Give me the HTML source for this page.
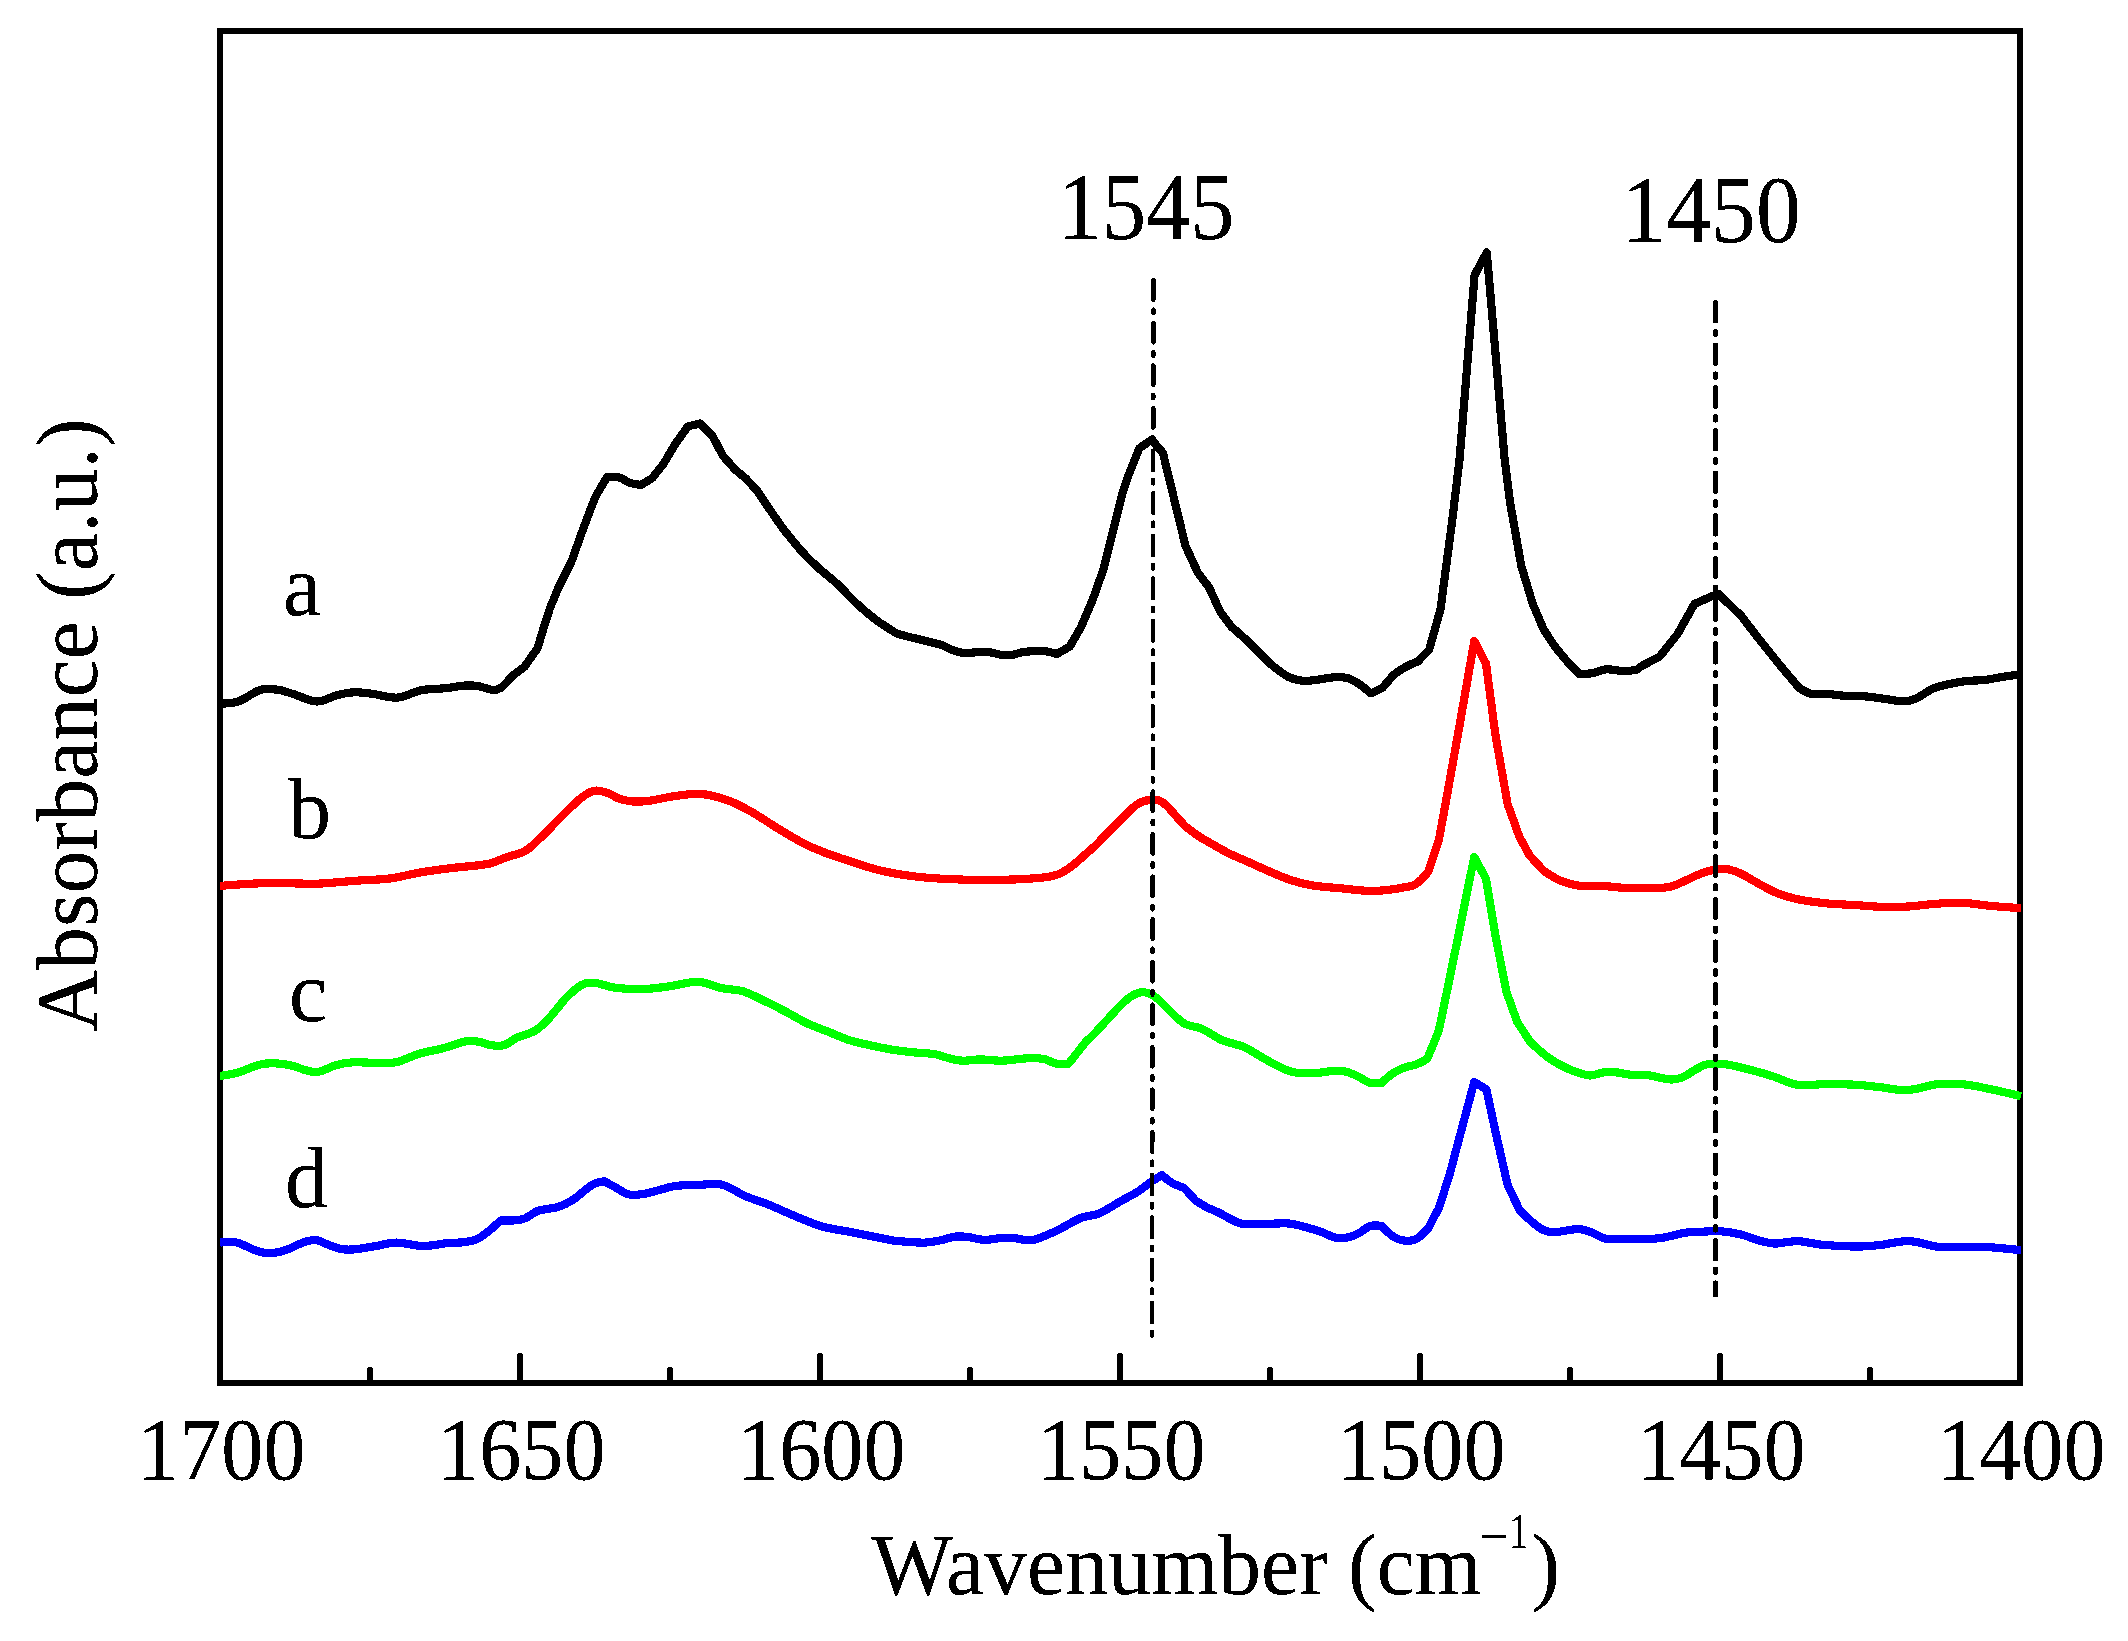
<!DOCTYPE html>
<html lang="en">
<head>
<meta charset="utf-8">
<title>FTIR absorbance spectra</title>
<style>
html,body{margin:0;padding:0;background:#fff;}
body{width:2128px;height:1641px;overflow:hidden;}
svg{display:block;}
text{font-family:"Liberation Serif","Times New Roman",Times,serif;fill:#000;}
.curve{fill:none;stroke-linejoin:round;stroke-linecap:butt;}
</style>
</head>
<body>
<svg width="2128" height="1641" viewBox="0 0 2128 1641">
<rect x="0" y="0" width="2128" height="1641" fill="#ffffff"/>
<defs>
<filter id="crisp" filterUnits="userSpaceOnUse" x="0" y="0" width="2128" height="1641" color-interpolation-filters="sRGB">
<feComponentTransfer><feFuncA type="discrete" tableValues="0 0 1 1 1"/></feComponentTransfer>
</filter>
</defs>
<g shape-rendering="crispEdges">
<rect x="220" y="31" width="1800" height="1352" fill="none" stroke="#000" stroke-width="6"/>
<g stroke="#000" stroke-width="6" stroke-linecap="round">
<line x1="520" y1="1382" x2="520" y2="1356"/>
<line x1="820" y1="1382" x2="820" y2="1356"/>
<line x1="1120" y1="1382" x2="1120" y2="1356"/>
<line x1="1420" y1="1382" x2="1420" y2="1356"/>
<line x1="1720" y1="1382" x2="1720" y2="1356"/>
<line x1="370" y1="1382" x2="370" y2="1369.5"/>
<line x1="670" y1="1382" x2="670" y2="1369.5"/>
<line x1="970" y1="1382" x2="970" y2="1369.5"/>
<line x1="1270" y1="1382" x2="1270" y2="1369.5"/>
<line x1="1570" y1="1382" x2="1570" y2="1369.5"/>
<line x1="1870" y1="1382" x2="1870" y2="1369.5"/>
</g>
</g>
<g class="curves" shape-rendering="crispEdges">
<path class="curve" stroke="#000000" stroke-width="8.2" d="M220.0,703.6C220.0,703.6 232.4,703.5 238.2,701.5C245.8,698.9 251.9,693.1 259.3,690.2C262.4,689.0 265.9,689.2 269.2,689.2C273.0,689.2 276.8,689.4 280.5,690.2C285.3,691.2 289.9,693.1 294.6,694.5C302.1,696.8 309.2,701.4 317.1,701.5C324.0,701.6 330.2,696.9 336.9,695.2C342.4,693.8 348.1,692.5 353.8,692.3C359.9,692.1 366.0,693.1 372.1,693.8C380.6,694.8 389.0,698.2 397.5,697.6C405.8,697.0 413.3,691.8 421.5,690.2C429.8,688.6 438.5,689.0 446.9,688.1C452.6,687.5 458.1,686.0 463.8,685.6C468.5,685.3 473.2,685.3 477.9,686.0C482.7,686.7 487.2,689.3 492.0,689.8C494.8,690.1 498.0,689.7 500.4,688.1C505.4,684.7 508.7,679.4 513.2,675.4C516.7,672.3 524.4,666.9 524.4,666.9C524.4,666.9 537.6,648.1 537.6,648.1C537.6,648.1 543.2,629.3 543.2,629.3C543.2,629.3 549.8,608.6 549.8,608.6C549.8,608.6 558.3,588.0 558.3,588.0C558.3,588.0 571.4,561.7 571.4,561.7C571.4,561.7 580.8,535.3 580.8,535.3C580.8,535.3 592.1,505.3 592.1,505.3C592.1,505.3 595.9,495.9 595.9,495.9C595.9,495.9 607.1,477.1 607.1,477.1C607.1,477.1 614.7,476.2 618.4,477.1C622.5,478.1 625.7,481.3 629.7,482.7C633.3,484.0 641.0,485.0 641.0,485.0C641.0,485.0 652.3,478.0 652.3,478.0C652.3,478.0 663.5,463.9 663.5,463.9C663.5,463.9 675.8,443.2 675.8,443.2C675.8,443.2 688.0,426.3 688.0,426.3C688.0,426.3 700.2,423.5 700.2,423.5C700.2,423.5 712.4,435.7 712.4,435.7C712.4,435.7 722.7,455.5 722.7,455.5C722.7,455.5 735.0,469.5 735.0,469.5C735.0,469.5 746.2,478.9 746.2,478.9C746.2,478.9 757.5,491.2 757.5,491.2C757.5,491.2 770.7,510.9 770.7,510.9C770.7,510.9 783.8,529.7 783.8,529.7C783.8,529.7 800.8,550.4 800.8,550.4C800.8,550.4 811.8,561.9 817.7,567.3C823.8,572.9 830.5,577.7 836.5,583.3C843.6,589.9 850.0,597.3 857.1,603.9C863.1,609.5 869.4,614.8 875.9,619.9C879.5,622.7 883.4,625.0 887.2,627.4C890.4,629.4 893.4,632.0 896.9,633.3C903.6,635.9 910.7,637.2 917.6,639.0C925.1,641.0 932.8,642.3 940.2,644.6C944.7,646.0 948.8,648.7 953.3,650.3C957.0,651.6 960.7,652.8 964.6,653.1C969.0,653.4 973.3,652.3 977.7,652.1C981.5,651.9 985.3,651.7 989.0,652.1C993.5,652.6 997.7,654.4 1002.2,655.0C1005.3,655.4 1008.5,655.4 1011.6,655.0C1015.5,654.5 1019.1,652.7 1022.9,652.1C1026.6,651.5 1030.4,651.3 1034.1,651.2C1037.9,651.0 1041.7,650.7 1045.4,651.2C1049.3,651.7 1056.7,654.0 1056.7,654.0C1056.7,654.0 1069.8,646.5 1069.8,646.5C1069.8,646.5 1081.1,626.8 1081.1,626.8C1081.1,626.8 1092.4,600.5 1092.4,600.5C1092.4,600.5 1103.7,568.5 1103.7,568.5C1103.7,568.5 1113.1,530.9 1113.1,530.9C1113.1,530.9 1122.5,493.3 1122.5,493.3C1122.5,493.3 1128.1,476.4 1128.1,476.4C1128.1,476.4 1139.4,448.2 1139.4,448.2C1139.4,448.2 1151.6,439.7 1151.6,439.7C1151.6,439.7 1162.9,452.9 1162.9,452.9C1162.9,452.9 1173.2,495.2 1173.2,495.2C1173.2,495.2 1185.5,545.9 1185.5,545.9C1185.5,545.9 1197.7,572.3 1197.7,572.3C1197.7,572.3 1209.0,587.3 1209.0,587.3C1209.0,587.3 1220.2,611.7 1220.2,611.7C1220.2,611.7 1231.5,626.8 1231.5,626.8C1231.5,626.8 1242.9,636.7 1248.4,641.8C1252.4,645.5 1260.0,653.3 1260.0,653.3C1260.0,653.3 1271.3,664.6 1271.3,664.6C1271.3,664.6 1282.1,673.5 1288.2,676.8C1292.2,678.9 1296.9,680.0 1301.4,680.6C1305.7,681.2 1310.2,680.6 1314.5,680.2C1321.4,679.5 1328.2,677.6 1335.2,677.2C1339.6,677.0 1344.1,677.1 1348.3,678.3C1352.4,679.5 1356.0,682.0 1359.6,684.4C1363.6,687.1 1370.9,693.4 1370.9,693.4C1370.9,693.4 1382.2,688.1 1382.2,688.1C1382.2,688.1 1393.5,675.0 1393.5,675.0C1393.5,675.0 1400.8,669.6 1404.7,667.4C1408.9,665.0 1417.9,661.4 1417.9,661.4C1417.9,661.4 1429.2,649.6 1429.2,649.6C1429.2,649.6 1440.5,609.2 1440.5,609.2C1440.5,609.2 1451.7,524.6 1451.7,524.6C1451.7,524.6 1459.5,460.0 1459.5,460.0C1459.5,460.0 1474.6,275.0 1474.6,275.0C1474.6,275.0 1486.8,252.5 1486.8,252.5C1486.8,252.5 1504.7,460.0 1504.7,460.0C1504.7,460.0 1510.0,502.0 1510.0,502.0C1510.0,502.0 1521.3,565.9 1521.3,565.9C1521.3,565.9 1532.6,603.5 1532.6,603.5C1532.6,603.5 1543.8,629.8 1543.8,629.8C1543.8,629.8 1555.1,646.8 1555.1,646.8C1555.1,646.8 1568.3,662.7 1568.3,662.7C1568.3,662.7 1579.5,674.0 1579.5,674.0C1579.5,674.0 1588.4,673.9 1592.7,673.1C1597.2,672.3 1601.3,669.6 1605.9,669.3C1612.2,668.9 1618.4,671.2 1624.7,671.2C1629.1,671.2 1637.8,669.3 1637.8,669.3C1637.8,669.3 1640.0,666.9 1640.0,666.9C1640.0,666.9 1659.7,656.5 1659.7,656.5C1659.7,656.5 1677.6,634.0 1677.6,634.0C1677.6,634.0 1694.5,603.9 1694.5,603.9C1694.5,603.9 1718.0,593.6 1718.0,593.6C1718.0,593.6 1741.5,616.1 1741.5,616.1C1741.5,616.1 1756.5,635.9 1756.5,635.9C1756.5,635.9 1779.1,664.1 1779.1,664.1C1779.1,664.1 1798.8,687.6 1798.8,687.6C1798.8,687.6 1806.6,692.8 1811.1,693.8C1816.6,695.0 1822.4,693.8 1828.0,694.1C1834.3,694.5 1840.5,695.6 1846.8,696.0C1853.1,696.4 1859.3,695.9 1865.6,696.4C1871.9,696.9 1878.1,698.0 1884.4,698.8C1890.7,699.6 1896.9,701.3 1903.2,701.3C1907.4,701.3 1911.6,700.4 1915.4,698.8C1921.7,696.1 1927.0,691.2 1933.3,688.5C1938.7,686.2 1944.5,685.1 1950.2,683.8C1955.8,682.6 1961.4,681.6 1967.1,681.0C1972.7,680.4 1978.4,680.6 1984.0,680.0C1989.7,679.4 1995.3,678.1 2000.9,677.2C2007.3,676.2 2020.0,674.4 2020.0,674.4"/>
<path class="curve" stroke="#ff0000" stroke-width="8.2" d="M220.0,885.9C220.0,885.9 245.7,883.8 258.6,883.4C270.6,883.0 282.6,883.3 294.6,883.4C301.6,883.4 308.7,884.1 315.7,883.8C329.8,883.2 343.9,881.6 358.0,880.6C368.6,879.8 379.2,879.9 389.7,878.5C400.4,877.1 410.8,874.0 421.5,872.2C432.0,870.4 442.6,869.2 453.2,867.9C465.2,866.4 477.3,866.0 489.1,863.7C495.0,862.5 500.3,859.4 506.0,857.4C512.3,855.2 519.3,854.3 525.1,851.0C530.8,847.8 535.2,842.8 539.9,838.3C547.1,831.5 553.9,824.1 561.0,817.2C568.0,810.4 574.5,803.1 582.2,797.1C585.9,794.2 590.2,791.5 594.9,790.7C599.1,790.0 603.5,791.6 607.6,792.9C611.3,794.1 614.4,796.9 618.1,798.2C622.2,799.7 626.5,800.8 630.8,801.3C635.7,801.9 640.7,801.6 645.6,801.3C648.8,801.1 651.9,800.4 655.0,799.8C660.4,798.8 665.7,797.5 671.1,796.7C678.1,795.6 685.2,794.4 692.3,794.1C697.9,793.8 703.7,794.0 709.2,795.0C716.4,796.4 723.6,798.6 730.4,801.3C737.7,804.2 744.7,808.0 751.5,811.9C760.2,816.8 768.4,822.6 776.9,827.8C785.3,832.9 793.6,838.1 802.3,842.6C809.1,846.2 816.2,849.3 823.4,852.1C832.4,855.6 841.7,858.6 850.9,861.6C860.0,864.6 869.1,867.7 878.4,870.0C886.7,872.1 895.2,873.6 903.7,874.9C912.1,876.2 920.6,877.2 929.1,877.9C940.4,878.8 951.7,879.4 963.0,879.6C978.5,879.9 994.0,880.0 1009.5,879.6C1020.8,879.3 1032.1,878.7 1043.3,877.5C1048.3,877.0 1053.4,876.1 1058.1,874.3C1062.7,872.5 1066.8,869.8 1070.8,866.9C1076.0,863.1 1080.7,858.4 1085.6,854.2C1088.7,851.5 1095.0,846.0 1095.0,846.0C1095.0,846.0 1109.0,831.5 1109.0,831.5C1109.0,831.5 1125.9,814.5 1125.9,814.5C1125.9,814.5 1133.8,806.3 1138.6,803.5C1142.4,801.3 1146.9,800.0 1151.3,799.7C1154.9,799.5 1158.9,800.0 1161.9,801.9C1166.9,805.1 1174.6,814.5 1174.6,814.5C1174.6,814.5 1185.2,826.2 1185.2,826.2C1185.2,826.2 1193.5,832.8 1197.9,835.7C1202.0,838.4 1206.3,840.7 1210.5,843.1C1216.1,846.3 1221.6,849.7 1227.4,852.6C1234.3,856.1 1241.5,858.9 1248.6,862.1C1255.6,865.3 1262.6,868.6 1269.7,871.6C1276.7,874.6 1283.7,877.7 1290.9,880.1C1297.8,882.3 1304.8,884.2 1312.0,885.4C1322.5,887.1 1333.2,887.5 1343.8,888.6C1350.8,889.3 1357.8,890.4 1364.9,890.7C1371.9,891.0 1379.0,890.8 1386.0,890.2C1391.7,889.7 1397.4,888.6 1403.0,887.5C1407.2,886.7 1411.9,886.6 1415.6,884.3C1420.7,881.1 1428.3,871.6 1428.3,871.6C1428.3,871.6 1438.9,839.9 1438.9,839.9C1438.9,839.9 1447.4,793.4 1447.4,793.4C1447.4,793.4 1459.5,725.7 1459.5,725.7C1459.5,725.7 1474.3,641.0 1474.3,641.0C1474.3,641.0 1486.0,663.6 1486.0,663.6C1486.0,663.6 1495.3,734.2 1495.3,734.2C1495.3,734.2 1507.6,804.0 1507.6,804.0C1507.6,804.0 1519.3,836.5 1519.3,836.5C1519.3,836.5 1529.6,855.5 1529.6,855.5C1529.6,855.5 1544.0,871.1 1544.0,871.1C1544.0,871.1 1554.8,878.3 1560.7,880.7C1566.8,883.2 1573.3,885.1 1579.9,885.9C1587.0,886.8 1594.3,885.6 1601.5,885.9C1608.7,886.2 1615.8,887.4 1623.0,887.8C1631.8,888.2 1640.6,888.5 1649.4,888.3C1656.6,888.1 1664.0,888.2 1671.0,886.6C1676.9,885.2 1682.2,881.9 1687.8,879.5C1693.4,877.1 1698.7,874.0 1704.5,872.3C1710.7,870.4 1717.2,868.5 1723.7,868.7C1729.5,868.9 1735.2,871.2 1740.5,873.5C1747.2,876.4 1753.2,880.9 1759.7,884.3C1766.0,887.6 1772.2,891.3 1778.8,893.8C1785.8,896.5 1793.1,898.3 1800.4,899.8C1809.1,901.5 1818.0,902.5 1826.8,903.4C1836.3,904.3 1845.9,904.5 1855.5,905.1C1865.1,905.7 1874.7,906.7 1884.3,907.0C1892.3,907.2 1900.3,907.0 1908.3,906.5C1916.3,906.0 1924.2,904.7 1932.2,904.1C1941.8,903.4 1951.4,902.4 1961.0,902.7C1970.6,903.0 1980.1,904.9 1989.7,905.8C2000.1,906.8 2020.9,908.2 2020.9,908.2"/>
<path class="curve" stroke="#00ff00" stroke-width="8.2" d="M220.0,1075.9C220.0,1075.9 231.8,1074.3 237.5,1072.7C244.7,1070.6 251.4,1066.8 258.6,1064.9C263.4,1063.6 268.4,1063.1 273.4,1063.2C279.1,1063.3 284.8,1064.1 290.4,1065.3C298.9,1067.1 307.0,1072.2 315.7,1072.1C323.2,1072.0 329.7,1066.8 336.9,1064.9C341.7,1063.6 346.7,1062.7 351.7,1062.4C359.4,1062.0 367.2,1062.8 374.9,1062.8C382.0,1062.8 389.2,1063.6 396.1,1062.2C404.2,1060.5 411.4,1056.0 419.3,1053.7C426.9,1051.4 434.9,1050.4 442.6,1048.4C450.4,1046.3 457.9,1042.9 465.9,1041.4C470.1,1040.6 474.4,1041.1 478.6,1041.7C482.9,1042.3 486.9,1044.6 491.2,1045.2C495.4,1045.8 499.8,1046.4 503.9,1045.2C508.6,1043.8 512.2,1039.9 516.6,1037.8C522.8,1034.9 529.9,1034.0 535.7,1030.4C541.4,1026.8 550.5,1016.7 550.5,1016.7C550.5,1016.7 565.3,998.7 565.3,998.7C565.3,998.7 575.7,988.1 582.2,984.6C586.0,982.6 590.6,982.5 594.9,982.9C600.7,983.4 606.1,986.0 611.8,987.1C616.0,987.9 620.2,988.4 624.5,988.6C633.0,988.9 641.5,989.1 650.0,988.6C657.1,988.2 664.1,987.0 671.1,986.0C680.3,984.7 689.3,981.4 698.6,981.8C706.6,982.1 714.0,986.5 721.9,988.2C728.9,989.7 736.2,989.3 743.0,991.3C750.4,993.5 757.2,997.5 764.2,1000.8C771.3,1004.2 778.3,1007.7 785.3,1011.4C792.4,1015.1 799.2,1019.5 806.5,1023.0C813.3,1026.3 820.6,1028.7 827.6,1031.5C834.7,1034.3 841.6,1037.7 848.8,1040.0C855.7,1042.2 862.8,1043.6 869.9,1045.2C876.9,1046.8 884.0,1048.3 891.1,1049.5C898.1,1050.7 905.2,1051.4 912.2,1052.2C920.0,1053.0 927.8,1053.0 935.5,1054.3C940.6,1055.2 945.3,1057.4 950.3,1058.6C954.5,1059.6 958.7,1060.6 963.0,1060.7C968.6,1060.9 974.3,1059.4 979.9,1059.4C986.9,1059.4 994.0,1060.8 1001.0,1060.7C1007.4,1060.6 1013.7,1059.6 1020.1,1059.0C1024.3,1058.6 1028.5,1057.8 1032.7,1057.9C1037.0,1058.0 1041.3,1058.4 1045.4,1059.4C1049.1,1060.3 1052.3,1062.9 1056.0,1063.6C1060.2,1064.4 1068.7,1063.6 1068.7,1063.6C1068.7,1063.6 1085.6,1042.1 1085.6,1042.1C1085.6,1042.1 1095.0,1033.0 1095.0,1033.0C1095.0,1033.0 1111.1,1015.5 1111.1,1015.5C1111.1,1015.5 1121.8,1003.5 1128.1,998.6C1131.8,995.7 1136.2,993.1 1140.8,992.3C1144.3,991.7 1148.1,992.8 1151.3,994.4C1155.3,996.4 1161.9,1002.8 1161.9,1002.8C1161.9,1002.8 1174.6,1015.5 1174.6,1015.5C1174.6,1015.5 1181.1,1022.0 1185.2,1024.0C1189.8,1026.3 1195.2,1026.4 1200.0,1028.2C1203.7,1029.6 1207.1,1031.6 1210.5,1033.5C1214.1,1035.5 1217.3,1038.3 1221.1,1039.8C1228.7,1042.9 1236.9,1044.1 1244.4,1047.2C1249.7,1049.4 1254.3,1052.9 1259.2,1055.7C1264.8,1058.9 1270.3,1062.3 1276.1,1065.2C1280.9,1067.6 1285.7,1070.1 1290.9,1071.6C1295.0,1072.8 1299.3,1073.1 1303.6,1073.2C1309.2,1073.4 1314.9,1073.0 1320.5,1072.6C1324.8,1072.3 1328.9,1071.1 1333.2,1070.9C1337.4,1070.7 1341.8,1070.6 1345.9,1071.6C1350.4,1072.6 1354.4,1074.9 1358.6,1076.8C1362.6,1078.6 1366.0,1081.7 1370.2,1082.8C1373.9,1083.8 1381.8,1082.8 1381.8,1082.8C1381.8,1082.8 1388.5,1076.3 1392.4,1073.7C1396.3,1071.1 1400.7,1069.0 1405.1,1067.3C1408.5,1066.0 1412.3,1065.9 1415.7,1064.6C1419.7,1063.1 1427.3,1058.9 1427.3,1058.9C1427.3,1058.9 1438.9,1030.3 1438.9,1030.3C1438.9,1030.3 1449.5,979.0 1449.5,979.0C1449.5,979.0 1460.1,927.0 1460.1,927.0C1460.1,927.0 1474.2,857.1 1474.2,857.1C1474.2,857.1 1486.1,879.0 1486.1,879.0C1486.1,879.0 1495.3,935.2 1495.3,935.2C1495.3,935.2 1506.6,992.3 1506.6,992.3C1506.6,992.3 1517.2,1021.9 1517.2,1021.9C1517.2,1021.9 1530.0,1041.5 1530.0,1041.5C1530.0,1041.5 1542.0,1053.1 1548.8,1057.9C1554.7,1062.2 1561.2,1065.8 1567.9,1068.7C1574.8,1071.7 1582.0,1074.6 1589.5,1075.4C1594.4,1075.9 1599.0,1072.9 1603.9,1072.3C1607.9,1071.8 1611.9,1071.9 1615.9,1072.3C1620.7,1072.7 1625.4,1074.3 1630.2,1074.7C1635.8,1075.2 1641.4,1074.4 1647.0,1075.1C1655.1,1076.1 1662.9,1079.0 1671.0,1079.5C1675.1,1079.7 1679.2,1078.6 1683.0,1077.1C1687.3,1075.4 1690.9,1072.1 1695.0,1069.9C1698.9,1067.8 1702.6,1065.2 1706.9,1064.4C1713.2,1063.3 1719.7,1063.7 1726.1,1064.4C1733.4,1065.3 1740.5,1067.4 1747.7,1069.2C1755.8,1071.2 1763.8,1073.4 1771.7,1075.9C1780.6,1078.7 1788.9,1083.5 1798.0,1085.0C1805.9,1086.3 1814.0,1084.3 1822.0,1084.3C1833.2,1084.2 1844.3,1084.2 1855.5,1084.7C1863.5,1085.1 1871.5,1086.2 1879.5,1087.1C1887.5,1088.0 1895.4,1089.8 1903.5,1090.2C1907.5,1090.4 1911.5,1089.7 1915.4,1089.0C1922.7,1087.7 1929.7,1085.0 1937.0,1084.3C1945.8,1083.4 1954.6,1083.5 1963.4,1084.3C1972.3,1085.1 1981.0,1087.2 1989.7,1089.0C2000.2,1091.2 2020.9,1096.2 2020.9,1096.2"/>
<path class="curve" stroke="#0000ff" stroke-width="8.2" d="M220.0,1242.6C220.0,1242.6 230.4,1241.0 235.4,1242.2C243.5,1244.1 250.6,1249.1 258.6,1251.5C262.7,1252.8 267.0,1253.4 271.3,1253.2C276.3,1252.9 281.3,1251.6 286.1,1250.0C291.9,1248.0 297.2,1244.6 303.0,1242.6C307.1,1241.2 311.4,1239.7 315.7,1240.1C320.2,1240.5 324.1,1243.3 328.4,1244.8C332.6,1246.3 336.7,1248.2 341.1,1249.0C345.3,1249.8 349.6,1249.7 353.8,1249.4C360.9,1248.8 367.9,1247.3 374.9,1246.2C382.0,1245.1 388.9,1242.7 396.1,1242.6C403.9,1242.5 411.5,1245.2 419.3,1245.8C423.5,1246.1 427.8,1245.8 432.0,1245.4C437.0,1244.9 441.8,1243.6 446.8,1243.1C452.4,1242.5 458.2,1243.0 463.8,1242.2C468.8,1241.5 474.2,1241.0 478.6,1238.4C486.8,1233.6 500.8,1220.4 500.8,1220.4C500.8,1220.4 510.0,1220.8 514.5,1220.4C518.1,1220.1 521.8,1219.7 525.1,1218.3C529.6,1216.5 533.2,1212.5 537.8,1210.9C544.6,1208.6 552.1,1208.9 558.9,1206.7C564.1,1205.0 569.1,1202.3 573.7,1199.3C580.4,1194.9 585.8,1188.6 592.7,1184.5C596.2,1182.5 604.4,1181.3 604.4,1181.3C604.4,1181.3 612.1,1185.6 616.0,1187.7C620.2,1190.0 624.0,1193.3 628.7,1194.4C633.5,1195.5 638.6,1194.6 643.5,1194.0C647.4,1193.5 651.2,1192.2 655.0,1191.2C661.8,1189.5 668.5,1187.0 675.4,1186.0C683.1,1184.9 690.9,1185.1 698.6,1184.9C706.4,1184.7 714.3,1182.9 721.9,1184.7C730.3,1186.7 737.3,1192.7 745.2,1196.1C752.8,1199.3 760.8,1201.5 768.4,1204.6C777.0,1208.0 785.3,1212.1 793.8,1215.6C802.2,1219.1 810.6,1222.7 819.2,1225.7C822.6,1226.9 826.2,1227.6 829.7,1228.3C836.7,1229.7 843.8,1230.8 850.9,1232.1C857.9,1233.4 865.0,1234.9 872.0,1236.3C879.1,1237.7 886.1,1239.4 893.2,1240.5C898.1,1241.2 903.1,1241.5 908.0,1241.8C913.6,1242.2 919.3,1242.9 924.9,1242.6C930.6,1242.3 936.2,1241.2 941.8,1240.1C946.1,1239.2 950.2,1237.2 954.5,1236.7C958.7,1236.2 963.0,1236.4 967.2,1236.9C972.9,1237.5 978.4,1239.7 984.1,1239.9C989.8,1240.1 995.3,1238.4 1001.0,1238.0C1005.2,1237.7 1009.5,1237.7 1013.7,1238.0C1018.0,1238.4 1022.1,1239.8 1026.4,1240.1C1029.2,1240.3 1032.2,1240.3 1034.9,1239.5C1042.1,1237.3 1049.1,1234.2 1056.0,1231.0C1064.7,1226.9 1072.6,1221.4 1081.4,1217.7C1085.7,1215.9 1090.5,1216.0 1095.0,1214.8C1097.7,1214.1 1100.3,1213.1 1102.7,1211.8C1109.2,1208.3 1115.3,1204.3 1121.7,1200.6C1127.3,1197.4 1133.2,1194.6 1138.6,1191.1C1143.0,1188.2 1146.9,1184.6 1151.3,1181.6C1154.7,1179.3 1161.9,1175.2 1161.9,1175.2C1161.9,1175.2 1168.7,1180.9 1172.5,1183.1C1176.1,1185.2 1184.1,1187.9 1184.1,1187.9C1184.1,1187.9 1195.7,1200.6 1195.7,1200.6C1195.7,1200.6 1203.4,1205.5 1207.4,1207.6C1211.1,1209.5 1215.2,1210.8 1219.0,1212.7C1222.9,1214.6 1226.6,1217.1 1230.6,1219.0C1234.4,1220.8 1238.1,1223.3 1242.3,1223.9C1250.0,1225.0 1257.8,1224.0 1265.5,1223.9C1273.3,1223.8 1281.0,1223.0 1288.8,1223.5C1293.1,1223.8 1297.3,1224.9 1301.5,1226.0C1307.9,1227.7 1314.2,1229.6 1320.5,1231.7C1325.5,1233.4 1330.1,1236.4 1335.3,1237.6C1339.1,1238.4 1343.1,1238.3 1346.9,1237.6C1351.0,1236.9 1354.9,1235.2 1358.6,1233.4C1362.7,1231.4 1365.8,1227.4 1370.2,1226.0C1373.9,1224.8 1381.8,1226.0 1381.8,1226.0C1381.8,1226.0 1389.0,1233.8 1393.4,1236.6C1396.9,1238.8 1401.0,1240.4 1405.1,1240.8C1409.0,1241.2 1413.3,1240.6 1416.7,1238.7C1421.3,1236.2 1428.3,1228.1 1428.3,1228.1C1428.3,1228.1 1438.9,1208.0 1438.9,1208.0C1438.9,1208.0 1449.5,1175.0 1449.5,1175.0C1449.5,1175.0 1460.1,1135.1 1460.1,1135.1C1460.1,1135.1 1474.2,1082.1 1474.2,1082.1C1474.2,1082.1 1486.4,1089.3 1486.4,1089.3C1486.4,1089.3 1496.0,1134.0 1496.0,1134.0C1496.0,1134.0 1507.6,1184.8 1507.6,1184.8C1507.6,1184.8 1519.3,1209.5 1519.3,1209.5C1519.3,1209.5 1527.5,1218.1 1532.0,1221.9C1535.7,1225.0 1539.5,1228.4 1544.0,1230.3C1547.7,1231.9 1551.9,1232.1 1555.9,1232.0C1563.2,1231.7 1570.2,1229.2 1577.5,1229.1C1581.6,1229.0 1585.6,1230.2 1589.5,1231.5C1594.5,1233.2 1598.8,1236.7 1603.9,1238.2C1607.8,1239.3 1611.9,1239.1 1615.9,1239.2C1621.5,1239.3 1627.0,1238.7 1632.6,1238.7C1637.4,1238.7 1642.2,1239.4 1647.0,1239.2C1652.6,1239.0 1658.3,1238.4 1663.8,1237.5C1671.1,1236.3 1678.1,1233.7 1685.4,1232.7C1692.5,1231.7 1699.7,1231.9 1706.9,1231.5C1710.9,1231.3 1714.9,1230.7 1718.9,1231.0C1726.2,1231.6 1733.4,1232.7 1740.5,1234.4C1747.0,1235.9 1753.2,1238.8 1759.7,1240.6C1764.4,1241.9 1769.1,1243.2 1774.0,1243.5C1778.0,1243.8 1782.0,1242.7 1786.0,1242.3C1790.0,1241.9 1794.0,1240.8 1798.0,1241.1C1806.1,1241.6 1813.9,1243.9 1822.0,1244.7C1833.1,1245.8 1844.3,1246.5 1855.5,1246.6C1863.5,1246.7 1871.5,1245.9 1879.5,1245.1C1885.1,1244.5 1890.7,1243.1 1896.3,1242.3C1900.3,1241.7 1904.3,1241.1 1908.3,1241.1C1911.5,1241.1 1914.7,1241.7 1917.8,1242.3C1924.2,1243.5 1930.5,1245.9 1937.0,1246.6C1945.8,1247.5 1954.6,1247.0 1963.4,1247.1C1971.4,1247.2 1979.3,1246.7 1987.3,1247.1C1998.5,1247.7 2020.9,1250.2 2020.9,1250.2"/>
</g>
<g stroke="#000" stroke-linecap="round" fill="none" shape-rendering="crispEdges">
<line x1="1153.5" y1="280.25" x2="1152" y2="1335.65" stroke-width="4.5" stroke-dasharray="19.5 9.8 3.5 9.8"/>
<line x1="1715.5" y1="302.5" x2="1715.5" y2="1295" stroke-width="5" stroke-dasharray="18.5 10.3 3.5 10.33"/>
</g>
<g filter="url(#crisp)">
<text transform="translate(221.3,1479) scale(0.979,1.035)" font-size="86" text-anchor="middle">1700</text>
<text transform="translate(521.3,1479) scale(0.979,1.035)" font-size="86" text-anchor="middle">1650</text>
<text transform="translate(821.3,1479) scale(0.979,1.035)" font-size="86" text-anchor="middle">1600</text>
<text transform="translate(1121.3,1479) scale(0.979,1.035)" font-size="86" text-anchor="middle">1550</text>
<text transform="translate(1421.3,1479) scale(0.979,1.035)" font-size="86" text-anchor="middle">1500</text>
<text transform="translate(1721.3,1479) scale(0.979,1.035)" font-size="86" text-anchor="middle">1450</text>
<text transform="translate(2021.3,1479) scale(0.979,1.035)" font-size="86" text-anchor="middle">1400</text>
<text transform="translate(871.6,1594) scale(1,1)" font-size="86" text-anchor="start">Wavenumber</text>
<text transform="translate(1348,1594) scale(1,1)" font-size="86" text-anchor="start">(cm</text>
<text transform="translate(1479,1552.5) scale(1.04,1)" font-size="50" text-anchor="start">−</text>
<text transform="translate(1508.8,1548) scale(0.8,1.03)" font-size="50" text-anchor="start">1</text>
<text transform="translate(1531.5,1594) scale(1,1)" font-size="86" text-anchor="start">)</text>
<text transform="translate(96.5,1032) rotate(-90)" font-size="86" style="font-kerning:none">Absorbance (a.u.)</text>
<text transform="translate(283,615) scale(1,1)" font-size="86" text-anchor="start">a</text>
<text transform="translate(288,838) scale(1,1)" font-size="86" text-anchor="start">b</text>
<text transform="translate(289,1021) scale(1,1)" font-size="86" text-anchor="start">c</text>
<text transform="translate(285,1207) scale(1,1)" font-size="86" text-anchor="start">d</text>
<text transform="translate(1057.8,238.8) scale(0.96,1.036)" font-size="92" text-anchor="start">1545</text>
<text transform="translate(1621.5,242) scale(0.974,1.04)" font-size="92" text-anchor="start">1450</text>
</g>
</svg>
</body>
</html>
